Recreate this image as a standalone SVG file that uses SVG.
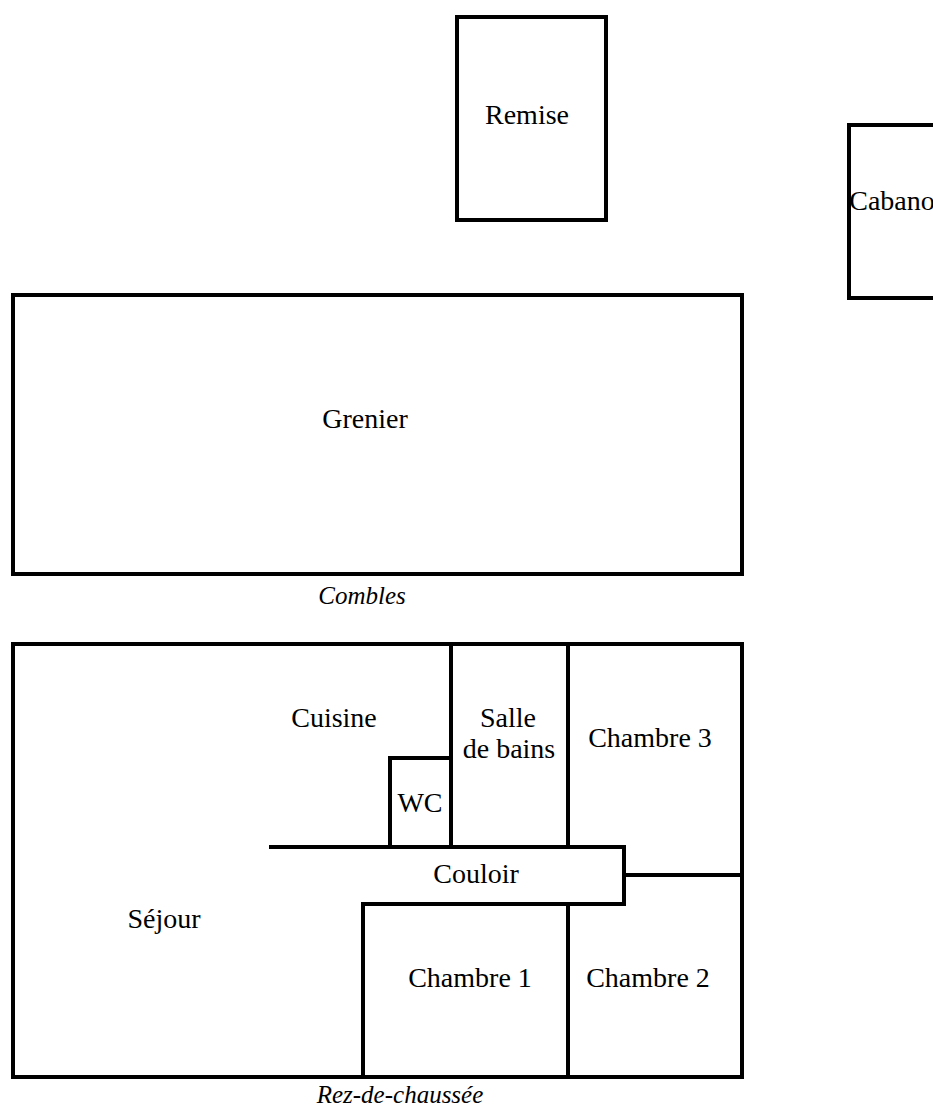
<svg xmlns="http://www.w3.org/2000/svg" width="933" height="1106" viewBox="0 0 933 1106">
<style>
.w{fill:none;stroke:#000;stroke-width:4;stroke-linecap:square}
.t{font-family:"Liberation Serif","Times New Roman",serif;font-size:28px;fill:#000;text-anchor:middle}
.c{font-family:"Liberation Serif","Times New Roman",serif;font-size:25px;font-style:italic;fill:#000;text-anchor:middle}
</style>
<rect width="933" height="1106" fill="#fff"/>
<g id="remise"><rect class="w" x="457" y="17" width="149" height="203"/><text class="t" x="527" y="124">Remise</text></g>
<g id="cabanon"><rect class="w" x="849" y="125" width="100" height="173"/><text class="t" x="899" y="210">Cabanon</text></g>
<g id="combles">
<g id="grenier"><rect class="w" x="13" y="295" width="729" height="279"/><text class="t" x="365" y="428">Grenier</text></g>
<text class="c" x="362" y="604">Combles</text>
</g>
<g id="rdc">
<rect class="w" x="13" y="644" width="729" height="433"/>
<g id="walls">
<path class="w" d="M451 644V847M568 644V847M390 847V758H451M271 847H624V904H363V1077M568 904V1077M624 875H742"/>
</g>
<g id="cuisine"><text class="t" x="334" y="727">Cuisine</text></g>
<g id="salle"><text class="t" x="508" y="727">Salle</text><text class="t" x="509" y="758">de bains</text></g>
<g id="chambre3"><text class="t" x="650" y="747">Chambre 3</text></g>
<g id="wc"><text class="t" x="420" y="812">WC</text></g>
<g id="couloir"><text class="t" x="476" y="883">Couloir</text></g>
<g id="sejour"><text class="t" x="164" y="928">Séjour</text></g>
<g id="chambre1"><text class="t" x="470" y="987">Chambre 1</text></g>
<g id="chambre2"><text class="t" x="648" y="987">Chambre 2</text></g>
<text class="c" x="400" y="1103">Rez-de-chaussée</text>
</g>
</svg>
